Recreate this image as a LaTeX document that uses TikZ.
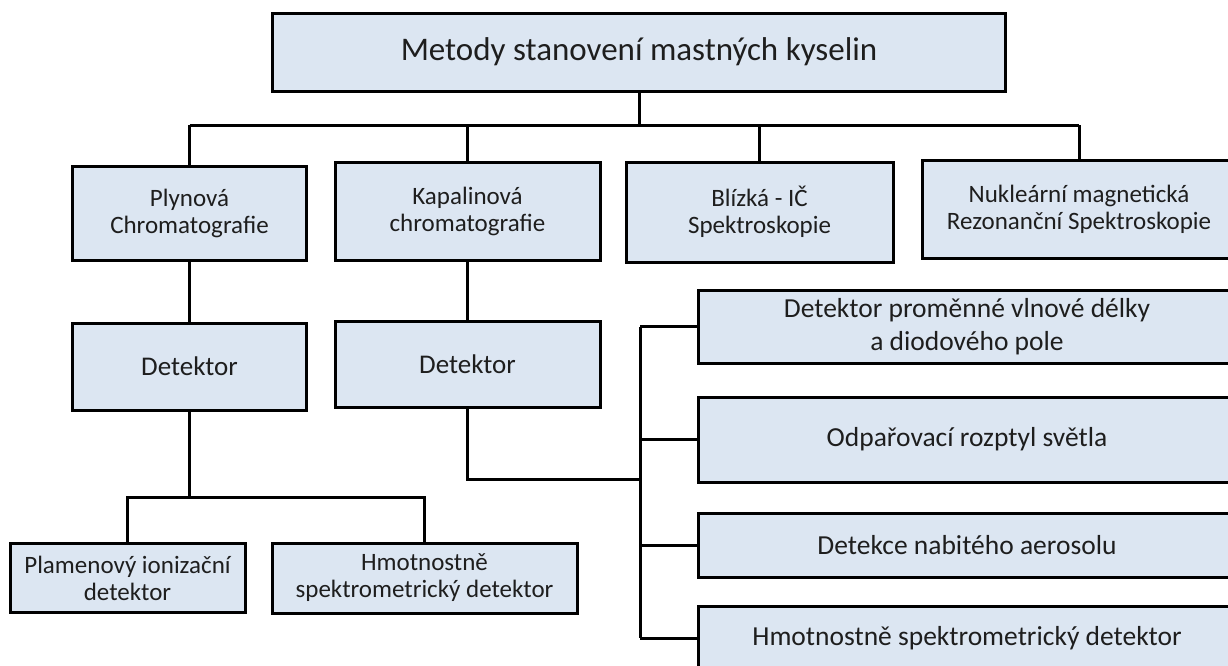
\documentclass[tikz,border=0pt]{standalone}
\usepackage{fontspec}
\setmainfont{Carlito}
\usepackage{tikz}
\definecolor{boxfill}{RGB}{220,230,242}
\definecolor{ink}{RGB}{30,30,30}

\begin{document}
\begin{tikzpicture}[x=1pt, y=-1pt, line width=3pt,
	main/.style = {draw, fill=boxfill, align=center, inner sep=0pt, text=ink},
	big/.style = {main, font=\fontsize{33}{38}\selectfont},
	mid/.style = {main, font=\fontsize{25}{27}\selectfont},
	det/.style = {main, font=\fontsize{27}{30}\selectfont},
	side/.style = {main, font=\fontsize{27.5}{33}\selectfont, minimum width=538pt}]
	\useasboundingbox (0,0) rectangle (1228,665);
	\clip (0,0) rectangle (1228,665);
	\fill[white] (0,0) rectangle (1228,665);
	\node[big, minimum width=733pt, minimum height=78pt] (top) at (639,52) {Metody stanovení mastných kyselin};
	\node[mid, minimum width=234pt, minimum height=94pt] (gc) at (189.5,213) {Plynová\\Chromatografie};
	\node[mid, minimum width=265pt, minimum height=98pt] (lc) at (467.5,211) {Kapalinová\\chromatografie};
	\node[mid, minimum width=267pt, minimum height=100pt] (nir) at (759.5,212) {Blízká - IČ\\Spektroskopie};
	\node[mid, minimum width=314pt, minimum height=98pt] (nmr) at (1079,209) {Nukleární magnetická\\Rezonanční Spektroskopie};
	\node[det, minimum width=234pt, minimum height=87pt] (gcdet) at (189.5,366.5) {Detektor};
	\node[det, minimum width=265pt, minimum height=86pt] (lcdet) at (467.5,364) {Detektor};
	\node[mid, minimum width=235pt, minimum height=69pt] (fid) at (127.5,578) {Plamenový ionizační\\detektor};
	\node[mid, minimum width=305pt, minimum height=70pt] (ms) at (424.5,578) {Hmotnostně\\spektrometrický detektor};
	\node[side, minimum height=73pt] (dad) at (967,326.5) {Detektor proměnné vlnové délky\\a diodového pole};
	\node[side, minimum height=85pt] (elsd) at (967,439.5) {Odpařovací rozptyl světla};
	\node[side, minimum height=64pt] (cad) at (967,545) {Detekce nabitého aerosolu};
	\node[side, minimum height=64pt] (lcms) at (967,638) {Hmotnostně spektrometrický detektor};
	\coordinate (bus) at (0,125);
	\coordinate (gcfork) at (0,497);
	\coordinate (lcfork) at (640,479);
	\draw (top.south) -- (top.south |- bus);
	\draw (gc.north |- bus) -- (nmr.north |- bus);
	\foreach \n in {gc,lc,nir,nmr}
		\draw (\n.north) -- (\n.north |- bus);
	\draw (gc.south) -- (gcdet.north);
	\draw (lc.south) -- (lcdet.north);
	\draw (gcdet.south) -- (gcdet.south |- gcfork);
	\draw (fid.north) |- (ms.north |- gcfork) -- (ms.north);
	\draw (lcdet.south) |- (lcfork);
	\draw (dad.west -| lcfork) -- (lcms.west -| lcfork);
	\foreach \n in {dad,elsd,cad,lcms}
		\draw (\n.west -| lcfork) -- (\n.west);
\end{tikzpicture}
\end{document}
